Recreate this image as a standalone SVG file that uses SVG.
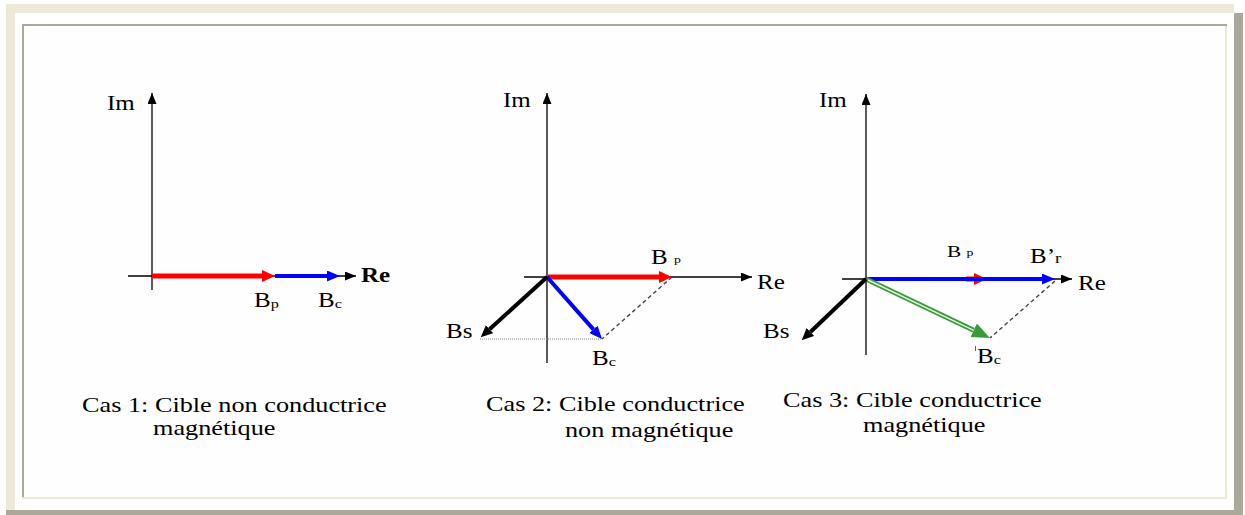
<svg xmlns="http://www.w3.org/2000/svg" width="1245" height="515" viewBox="0 0 1245 515">
<style>
text{font-family:"Liberation Serif","Times New Roman",serif;fill:#000}
.lbl{font-size:20px}
.cap{font-size:21px}
.sub{font-size:13px}
.axis{stroke:#000;stroke-width:1.3;fill:none}
.vr{stroke:#FF0000;stroke-width:5;fill:none}
.vb{stroke:#0000FF;stroke-width:4;fill:none}
.vk{stroke:#000;stroke-width:4;fill:none}
.dash{stroke:#444;stroke-width:1.4;stroke-dasharray:4 3;fill:none}
.dot{stroke:#888;stroke-width:1;stroke-dasharray:1 1;fill:none}
</style>
<defs>
<marker id="ax" markerUnits="userSpaceOnUse" markerWidth="12" markerHeight="10" refX="11" refY="4.5" orient="auto"><path d="M0,0 L11,4.5 L0,9 z" fill="#000"/></marker>
<marker id="hr" markerUnits="userSpaceOnUse" markerWidth="14" markerHeight="12" refX="0" refY="6" orient="auto"><path d="M0,0 L13,6 L0,12 z" fill="#FF0000"/></marker>
<marker id="hb" markerUnits="userSpaceOnUse" markerWidth="14" markerHeight="12" refX="0" refY="5.5" orient="auto"><path d="M0,0 L13,5.5 L0,11 z" fill="#0000FF"/></marker>
<marker id="hk" markerUnits="userSpaceOnUse" markerWidth="14" markerHeight="12" refX="0" refY="5.5" orient="auto"><path d="M0,0 L12,5.5 L0,11 z" fill="#000"/></marker>
<marker id="hg" markerUnits="userSpaceOnUse" markerWidth="19" markerHeight="16" refX="0" refY="7.5" orient="auto"><path d="M0,0 L18,7.5 L0,15 z" fill="#3A9A3A"/></marker>
</defs>
<rect x="0" y="0" width="1245" height="515" fill="#FFFFFF"/>
<g id="frame">
<rect x="22" y="24" width="1205" height="475" fill="#FEFEFE"/>
<rect x="6" y="4" width="1228" height="9" fill="#ECE9D8"/>
<rect x="6" y="4" width="9" height="506" fill="#ECE9D8"/>
<rect x="1234" y="13" width="9" height="502" fill="#ACA899"/>
<rect x="6" y="510" width="1237" height="5" fill="#ACA899"/>
<rect x="22" y="24" width="1205" height="2" fill="#ACA899"/>
<rect x="22" y="24" width="2" height="475" fill="#ACA899"/>
<rect x="1225" y="26" width="2" height="473" fill="#ECE9D8"/>
<rect x="22" y="497" width="1205" height="2" fill="#ECE9D8"/>
</g>
<g id="connectors">
<path class="axis" d="M152,290 L152,93" marker-end="url(#ax)"/>
<path class="axis" d="M128,276 L356,276" marker-end="url(#ax)"/>
<path class="vr" d="M152,276 L262,276" marker-end="url(#hr)"/>
<path class="vb" d="M275,276 L327,276" stroke-width="3.5" marker-end="url(#hb)"/>

<path class="axis" d="M547,363 L547,93" marker-end="url(#ax)"/>
<path class="axis" d="M524,277 L752,277" marker-end="url(#ax)"/>
<path class="dot" d="M480,339 L602,339"/>
<path class="dash" d="M672,277 L602,339"/>
<path class="vr" d="M547,277 L659,277" marker-end="url(#hr)"/>
<path class="vb" d="M547,277 L593.4,329.3" marker-end="url(#hb)"/>
<path class="vk" d="M547,277 L489.6,329.2" marker-end="url(#hk)"/>

<path class="axis" d="M866,355 L866,94" marker-end="url(#ax)"/>
<path class="axis" d="M842,279 L1072,279" marker-end="url(#ax)"/>
<path class="dash" d="M1055,281 L990,338"/>
<path class="vr" d="M966,279 L974,279" stroke-width="2.5" marker-end="url(#hr)"/>
<path class="vb" d="M866,279 L1042,279" marker-end="url(#hb)"/>
<path d="M866,279 L973.7,330.3" stroke="#3A9A3A" stroke-width="5" fill="none" marker-end="url(#hg)"/>
<path d="M868,280 L973.7,330.3" stroke="#E4F2E4" stroke-width="1.4" fill="none"/>
<path class="vk" d="M866,279 L810.4,332" marker-end="url(#hk)"/>
<path d="M975.5,346 L975.5,351" stroke="#666" stroke-width="1"/>
</g>
<g id="case1">
<text class="lbl" transform="translate(107,110) scale(1.25,1)">Im</text>
<text class="lbl" font-weight="bold" transform="translate(361,282) scale(1.25,1)">Re</text>
<text class="lbl" transform="translate(254,307) scale(1.25,1)">B<tspan class="sub" dy="1">p</tspan></text>
<text class="lbl" transform="translate(318,307) scale(1.25,1)">B<tspan class="sub" dy="1">c</tspan></text>
<text class="cap" transform="translate(82,412) scale(1.25,1)">Cas 1: Cible non conductrice</text>
<text class="cap" transform="translate(153,435) scale(1.25,1)">magnétique</text>
</g>
<g id="case2">
<text class="lbl" transform="translate(503,107) scale(1.25,1)">Im</text>
<text class="lbl" transform="translate(757,289) scale(1.25,1)">Re</text>
<text class="lbl" transform="translate(651,264) scale(1.25,1)">B <tspan font-size="11" dy="-1">p</tspan></text>
<text class="lbl" transform="translate(446,338) scale(1.25,1)">Bs</text>
<text class="lbl" transform="translate(592,365) scale(1.25,1)">B<tspan class="sub" dy="1">c</tspan></text>
<text class="cap" transform="translate(486,411) scale(1.25,1)">Cas 2: Cible conductrice</text>
<text class="cap" transform="translate(565,437) scale(1.25,1)">non magnétique</text>
</g>
<g id="case3">
<text class="lbl" transform="translate(819,107) scale(1.25,1)">Im</text>
<text class="lbl" transform="translate(1078,290) scale(1.25,1)">Re</text>
<text font-size="17" transform="translate(947,257) scale(1.25,1)">B <tspan font-size="11" dy="-1">p</tspan></text>
<text class="lbl" transform="translate(1030,263) scale(1.25,1)">B’<tspan font-size="15" dy="0">r</tspan></text>
<text class="lbl" transform="translate(763,338) scale(1.25,1)">Bs</text>
<text class="lbl" transform="translate(977,363) scale(1.25,1)">B<tspan class="sub" dy="1">c</tspan></text>
<text class="cap" transform="translate(783,407) scale(1.25,1)">Cas 3: Cible conductrice</text>
<text class="cap" transform="translate(863,432) scale(1.25,1)">magnétique</text>
</g>
</svg>
